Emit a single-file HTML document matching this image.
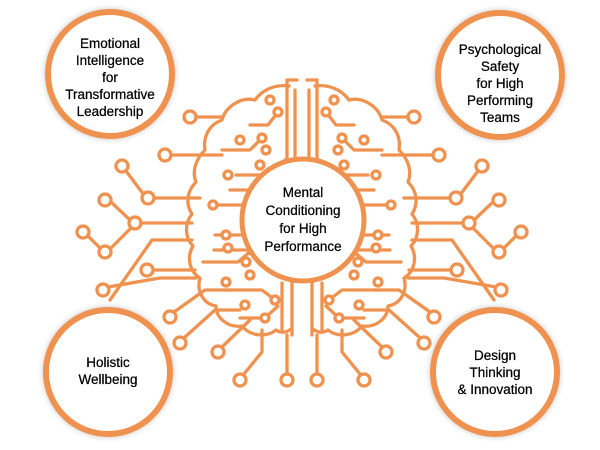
<!DOCTYPE html>
<html><head><meta charset="utf-8"><style>
body{margin:0;background:#fff;width:600px;height:450px;overflow:hidden;font-family:"Liberation Sans",sans-serif}
svg{position:absolute;left:0;top:0}
.t{font-family:"Liberation Sans",sans-serif;font-size:13.5px;fill:#000;stroke:#000;stroke-width:0.25;text-anchor:middle}
</style></head><body>
<svg width="600" height="450" viewBox="0 0 600 450">
<defs>
<filter id="sh" x="-20%" y="-20%" width="140%" height="140%"><feGaussianBlur stdDeviation="2"/></filter>
<g id="half" fill="none" stroke="#f0924f" stroke-width="3.3" stroke-linecap="round" stroke-linejoin="round">
<path d="M289,86 C275,84 262,90 255,100 C240,96 225,108 222,120 C208,125 203,138 205,150 C195,160 192,172 196,182 C186,192 186,205 192,214 C184,224 185,238 193,246 C186,258 190,272 200,278 C196,292 204,304 216,306 C216,318 228,328 242,326 C250,336 266,338 276,330 C282,334 288,332 292,328"/>
<path d="M287,160 L287,80 L297,80 M295,160 L295,90"/>
<path d="M282,283 L282,330 M292,283 L292,335"/>
<path d="M171,155 L222,155"/>
<path d="M126,171 L144,195 M154,198 L200,198"/>
<path d="M111,202 L130,220 M141,223 L192,223 M88,236 L100,248 M110,249 L131,228"/>
<path d="M153,270 L195,270 M108,287 L160,278 L196,278"/>
<path d="M110,300 L152,240 L192,240"/>
<path d="M174,312 L205,290 L230,290"/>
<path d="M185,337 L215,310 L240,310"/>
<path d="M222,347 L250,320"/>
<path d="M244,374 L262,352 L262,330"/>
<path d="M287,374 L287,335"/>
<path d="M195,117 L222,117"/>
<path d="M222,150 L250,150 L262,138 M236,175 L270,175 L285,160 M210,205 L245,205 L260,195 M215,235 L250,235 M203,262 L238,262 L252,250 M225,290 L262,290 L275,300 M240,318 L265,318 L278,306 M250,125 L268,125 L278,112 M230,190 L252,190 M214,250 L245,250"/>
</g>
<g id="dots" fill="#fff" stroke="#f0924f" stroke-width="3.3">
<circle cx="165" cy="155" r="6"/><circle cx="122" cy="166" r="6"/><circle cx="148" cy="198" r="6"/>
<circle cx="105" cy="200" r="6"/><circle cx="135" cy="223" r="6"/><circle cx="83" cy="232" r="6"/>
<circle cx="105" cy="252" r="6"/><circle cx="147" cy="270" r="6"/><circle cx="103" cy="290" r="6"/>
<circle cx="170" cy="317" r="6"/><circle cx="180" cy="343" r="6"/><circle cx="218" cy="352" r="6"/>
<circle cx="240" cy="380" r="6"/><circle cx="287" cy="380" r="6"/><circle cx="190" cy="117" r="6"/>
<circle cx="262" cy="138" r="4"/><circle cx="260" cy="195" r="4"/>
<circle cx="252" cy="250" r="4"/><circle cx="275" cy="300" r="4"/>
<circle cx="278" cy="112" r="4"/><circle cx="270" cy="100" r="4"/><circle cx="240" cy="140" r="4"/>
<circle cx="260" cy="165" r="4"/><circle cx="228" cy="175" r="4"/><circle cx="213" cy="205" r="4"/>
<circle cx="226" cy="235" r="4"/><circle cx="246" cy="262" r="4"/><circle cx="226" cy="282" r="4"/>
<circle cx="265" cy="318" r="4"/><circle cx="266" cy="150" r="4"/><circle cx="228" cy="248" r="4"/>
<circle cx="250" cy="275" r="4"/><circle cx="245" cy="305" r="4"/>
</g>
</defs>
<use href="#half"/><use href="#dots"/>
<g transform="translate(604,0) scale(-1,1)"><use href="#half"/><use href="#dots"/></g>
<circle cx="303" cy="220" r="61" fill="#fff" stroke="#f0924f" stroke-width="5"/>
<g fill="#fff" stroke="#f0924f" stroke-width="6">
<circle cx="110" cy="74" r="62" stroke="#ddd" stroke-width="9" filter="url(#sh)"/>
<circle cx="110" cy="74" r="62"/>
<circle cx="500" cy="75" r="62" stroke="#ddd" stroke-width="9" filter="url(#sh)"/>
<circle cx="500" cy="75" r="62"/>
<circle cx="108" cy="372" r="62" stroke="#ddd" stroke-width="9" filter="url(#sh)"/>
<circle cx="108" cy="372" r="62"/>
<circle cx="495" cy="372" r="62" stroke="#ddd" stroke-width="9" filter="url(#sh)"/>
<circle cx="495" cy="372" r="62"/>
</g>
<text class="t" x="303" y="197">Mental</text>
<text class="t" x="303" y="215">Conditioning</text>
<text class="t" x="303" y="233">for High</text>
<text class="t" x="303" y="251">Performance</text>
<text class="t" x="110" y="48">Emotional</text>
<text class="t" x="110" y="65">Intelligence</text>
<text class="t" x="110" y="82">for</text>
<text class="t" x="110" y="99">Transformative</text>
<text class="t" x="110" y="116">Leadership</text>
<text class="t" x="500" y="54">Psychological</text>
<text class="t" x="500" y="71">Safety</text>
<text class="t" x="500" y="88">for High</text>
<text class="t" x="500" y="105">Performing</text>
<text class="t" x="500" y="122">Teams</text>
<text class="t" x="108" y="367">Holistic</text>
<text class="t" x="108" y="384">Wellbeing</text>
<text class="t" x="495" y="360">Design</text>
<text class="t" x="495" y="377">Thinking</text>
<text class="t" x="495" y="394">&amp; Innovation</text>
</svg>
</body></html>
